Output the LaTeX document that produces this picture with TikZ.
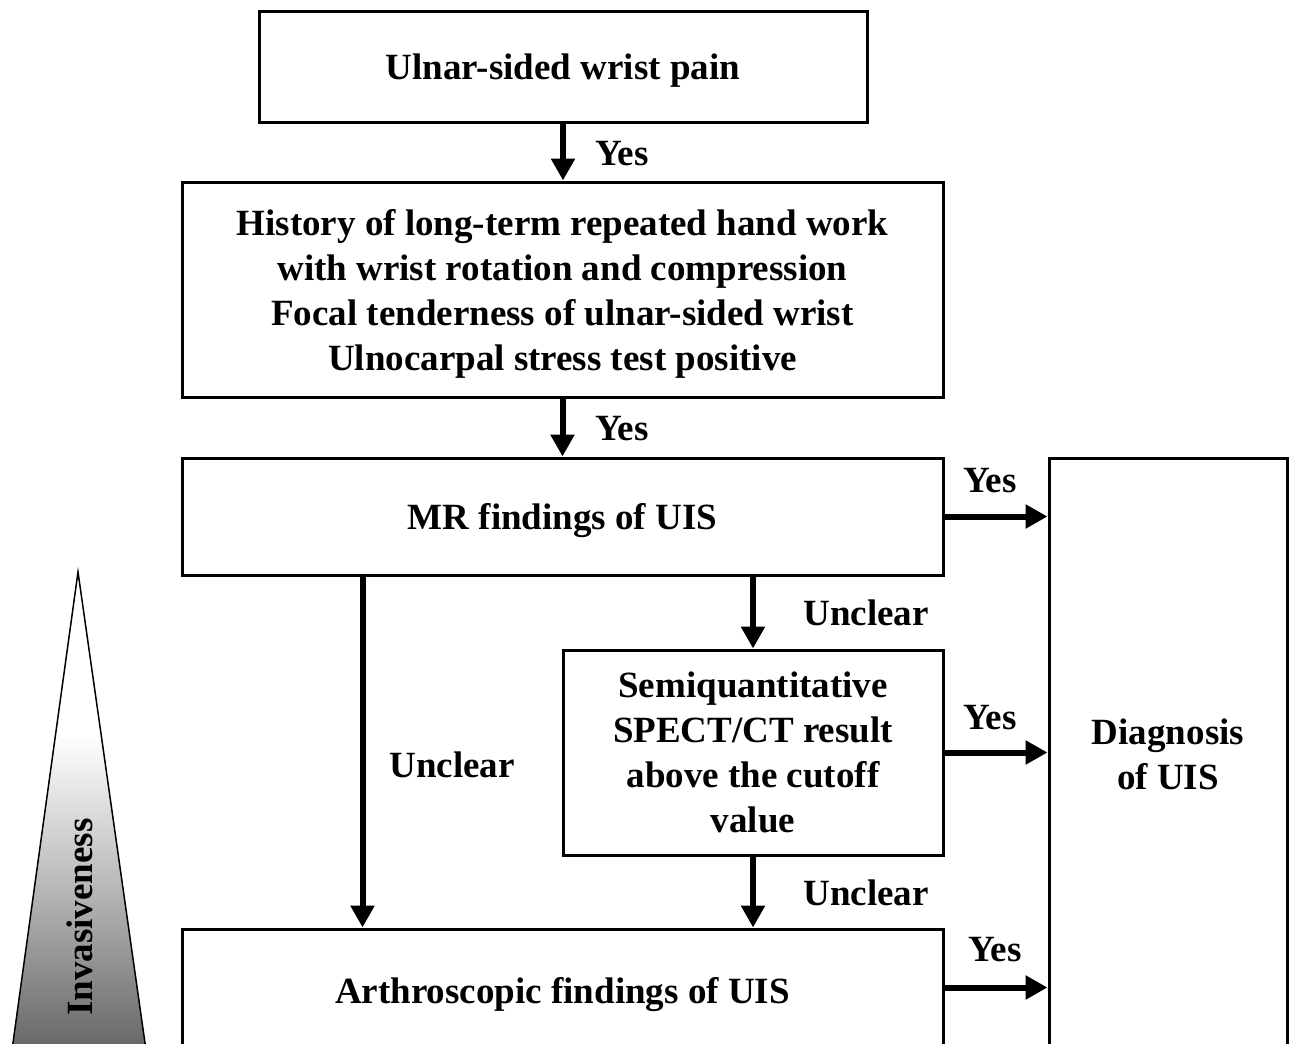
\documentclass[tikz,border=0pt]{standalone}
\usepackage{fontspec}
\setmainfont{Liberation Serif}
\usetikzlibrary{arrows.meta}
\pgfdeclareverticalshading{invasive-shade}{100bp}{color(0bp)=(black!60); color(25bp)=(black!60); color(42bp)=(black!28); color(58bp)=(white); color(100bp)=(white)}
\tikzset{
    flow-box/.style = {draw=black, fill=white, line width=3pt, rectangle, align=center, inner sep=0pt, text depth=0pt},
    flow-label/.style = {inner sep=0pt},
    flow-arrow/.style = {line width=6pt, -{Triangle[length=22pt, width=23pt]}},
}

\begin{document}
\begin{tikzpicture}[x=1pt, y=-1pt, font=\fontsize{37}{45}\selectfont\bfseries]
\useasboundingbox (0,0) rectangle (1291,1044);
\clip (0,0) rectangle (1291,1044);

% invasiveness wedge
\shade[shading=invasive-shade, draw=black, line width=1.5pt] (78,572) -- (146,1050) -- (12,1050) -- cycle;
\node[flow-label, rotate=90] (invasive) at (80,917) {Invasiveness};

% boxes
\node[flow-box, minimum width=608pt, minimum height=111pt] (pain) at (563,66.5) {Ulnar-sided wrist pain};
\node[flow-box, minimum width=761pt, minimum height=215pt] (history) at (562.5,289.5) {History of long-term repeated hand work\\with wrist rotation and compression\\Focal tenderness of ulnar-sided wrist\\Ulnocarpal stress test positive};
\node[flow-box, minimum width=761pt, minimum height=117pt] (mr) at (562.5,516.5) {MR findings of UIS};
\node[flow-box, minimum width=380pt, minimum height=205pt] (spect) at (753,752.5) {Semiquantitative\\SPECT/CT result\\above the cutoff\\value};
\node[flow-box, minimum width=761pt, minimum height=123pt] (arthro) at (562.5,990.5) {Arthroscopic findings of UIS};
\node[flow-box, minimum width=238pt, minimum height=592pt] (diagnosis) at (1168,754) {Diagnosis\\of UIS};

% arrows
\draw[flow-arrow] (pain.south) -- (pain.south |- history.north);
\draw[flow-arrow] (history.south) -- (mr.north);
\draw[flow-arrow] (mr.east) -- (mr.east -| diagnosis.west);
\draw[flow-arrow] (spect.east) -- (spect.east -| diagnosis.west);
\draw[flow-arrow] ([yshift=3pt]arthro.east) -- ([yshift=3pt]arthro.east -| diagnosis.west);
\draw[flow-arrow] (spect.north |- mr.south) -- (spect.north);
\draw[flow-arrow] (spect.south) -- (spect.south |- arthro.north);
\draw[flow-arrow] ([xshift=182pt]mr.south west) -- ([xshift=182pt]arthro.north west);

% labels
\node[flow-label] (yes-pain) at (622,154) {Yes};
\node[flow-label] (yes-history) at (622,429) {Yes};
\node[flow-label] (yes-mr) at (990,481) {Yes};
\node[flow-label] (unclear-mr) at (866,613) {Unclear};
\node[flow-label] (yes-spect) at (990,718) {Yes};
\node[flow-label] (unclear-left) at (452,765) {Unclear};
\node[flow-label] (unclear-spect) at (866,893) {Unclear};
\node[flow-label] (yes-arthro) at (995,950) {Yes};
\end{tikzpicture}
\end{document}
